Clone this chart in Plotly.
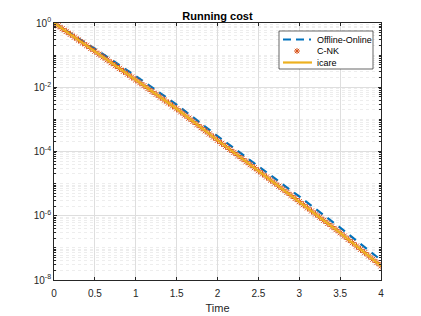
import plotly.graph_objects as go

# ---- data ----
t_line = [0, 0.5, 1, 1.5, 2, 2.5, 3, 3.5, 4]
offline_online = [1.0, 0.158, 0.0224, 2.88e-3, 3.02e-4, 3.47e-5, 3.98e-6, 4.27e-7, 4.17e-8]
icare = [1.0, 0.132, 0.0170, 2.14e-3, 2.24e-4, 2.51e-5, 2.75e-6, 2.95e-7, 2.75e-8]

t_cnk = [round(0.05 * k, 2) for k in range(81)]
cnk = [
    1.0, 0.817, 0.667, 0.545, 0.445, 0.363, 0.296, 0.242, 0.198, 0.161,
    0.132, 0.107, 0.0875, 0.0713, 0.0581, 0.0473, 0.0385, 0.0314, 0.0256, 0.0208,
    0.0170, 0.0138, 0.0112, 0.00912, 0.00741, 0.00603, 0.00490, 0.00398, 0.00324, 0.00263,
    0.00214, 0.00171, 0.00136, 0.00109, 8.67e-4, 6.92e-4, 5.52e-4, 4.41e-4, 3.52e-4, 2.81e-4,
    2.24e-4, 1.80e-4, 1.45e-4, 1.16e-4, 9.33e-5, 7.50e-5, 6.03e-5, 4.84e-5, 3.89e-5, 3.13e-5,
    2.51e-5, 2.01e-5, 1.61e-5, 1.29e-5, 1.04e-5, 8.32e-6, 6.67e-6, 5.35e-6, 4.29e-6, 3.44e-6,
    2.75e-6, 2.20e-6, 1.76e-6, 1.41e-6, 1.13e-6, 9.02e-7, 7.21e-7, 5.77e-7, 4.61e-7, 3.69e-7,
    2.95e-7, 2.33e-7, 1.84e-7, 1.45e-7, 1.14e-7, 9.02e-8, 7.11e-8, 5.61e-8, 4.43e-8, 3.49e-8,
    2.75e-8,
]

series_names = ["Offline-Online", "C-NK", "icare"]
x_ticks = [0, 0.5, 1, 1.5, 2, 2.5, 3, 3.5, 4]
x_ticklabels = ["0", "0.5", "1", "1.5", "2", "2.5", "3", "3.5", "4"]
y_ticks = [1, 1e-2, 1e-4, 1e-6, 1e-8]
y_ticklabels = ["10<sup>0</sup>", "10<sup>-2</sup>", "10<sup>-4</sup>", "10<sup>-6</sup>", "10<sup>-8</sup>"]

# ---- styling ----
FONT = "Liberation Sans, Arial, Helvetica, sans-serif"
AX = "#262626"
C_BLUE, C_RED, C_YEL = "#0072BD", "#D95319", "#EDB120"
minor_vals = []
for e in range(-8, 0):
    for m in range(1, 10):
        if m == 1 and e % 2 == 0:
            continue
        minor_vals.append(m * 10.0 ** e)

fig = go.Figure()
fig.add_trace(go.Scatter(
    x=t_line, y=offline_online, mode="lines", name=series_names[0],
    line=dict(color=C_BLUE, width=2.2, dash="8px,6px"),
))
fig.add_trace(go.Scatter(
    x=t_cnk, y=cnk, mode="markers", name=series_names[1],
    marker=dict(symbol="asterisk-open", size=6, color=C_RED,
                line=dict(color=C_RED, width=1)),
))
fig.add_trace(go.Scatter(
    x=t_line, y=icare, mode="lines", name=series_names[2],
    line=dict(color=C_YEL, width=2.2),
))

# ---- compact legend (MATLAB-like) in plot-domain coordinates ----
W, H = 327.0, 257.0  # plot area in px
def px(xp):
    return (xp - 54) / W
def py(yp):
    return (280 - yp) / H

shapes = [dict(type="rect", xref="paper", yref="paper",
               x0=px(279), x1=px(373), y0=py(69), y1=py(31),
               fillcolor="white", line=dict(color=AX, width=0.7), layer="above")]
rows = [39.5, 51, 62.5]
shapes.append(dict(type="line", xref="paper", yref="paper", x0=px(283), x1=px(311),
                   y0=py(rows[0]), y1=py(rows[0]), layer="above",
                   line=dict(color=C_BLUE, width=2.2, dash="8px,5px")))
shapes.append(dict(type="line", xref="paper", yref="paper", x0=px(283), x1=px(312),
                   y0=py(rows[2]), y1=py(rows[2]), layer="above",
                   line=dict(color=C_YEL, width=2.2)))
# asterisk glyph for C-NK
cx, cy, r = 297, rows[1], 3
for dx, dy in [(r, 0), (0, r), (r * 0.72, r * 0.72), (r * 0.72, -r * 0.72)]:
    shapes.append(dict(type="line", xref="paper", yref="paper",
                       x0=px(cx - dx), x1=px(cx + dx), y0=py(cy - dy), y1=py(cy + dy),
                       layer="above", line=dict(color=C_RED, width=1)))
annotations = []
for name, yy in zip(series_names, rows):
    annotations.append(dict(text=name, xref="paper", yref="paper", x=px(315), y=py(yy),
                            xanchor="left", yanchor="middle", showarrow=False,
                            font=dict(family=FONT, size=9, color="black")))

fig.update_layout(
    width=421, height=316,
    margin=dict(l=54, r=40, t=23, b=36, autoexpand=False),
    paper_bgcolor="white", plot_bgcolor="white",
    font=dict(family=FONT, size=10, color=AX),
    title=dict(text="<b>Running cost</b>", x=0.5, xref="paper", xanchor="center",
               y=1 - 16 / 316, yref="container", yanchor="middle",
               font=dict(family=FONT, size=11, color="black")),
    showlegend=False,
    shapes=shapes,
    annotations=annotations,
)
fig.update_xaxes(
    range=[0, 4], tickvals=x_ticks, ticktext=x_ticklabels, automargin=False,
    ticks="inside", ticklen=3, tickcolor=AX, showline=True, linecolor=AX, linewidth=0.8,
    mirror="ticks", showgrid=True, gridcolor="#dedede", gridwidth=0.8, zeroline=False,
    ticklabelstandoff=4,
    title=dict(text="Time", font=dict(family=FONT, size=11, color=AX), standoff=6),
    tickfont=dict(family=FONT, size=10, color=AX),
)
fig.update_yaxes(
    type="log", range=[-8, 0], tickvals=y_ticks, ticktext=y_ticklabels, automargin=False,
    ticks="inside", ticklen=3, tickcolor=AX, showline=True, linecolor=AX, linewidth=0.8,
    mirror="ticks", showgrid=True, gridcolor="#dedede", gridwidth=0.8, zeroline=False,
    tickfont=dict(family=FONT, size=10, color=AX),
    minor=dict(tickvals=minor_vals, ticks="inside", ticklen=2, tickcolor=AX,
               showgrid=True, gridcolor="#ededed", griddash="dot", gridwidth=0.7),
)

fig.write_html("out.html", config={"displayModeBar": False},
               post_script="document.body.style.margin='0';")
